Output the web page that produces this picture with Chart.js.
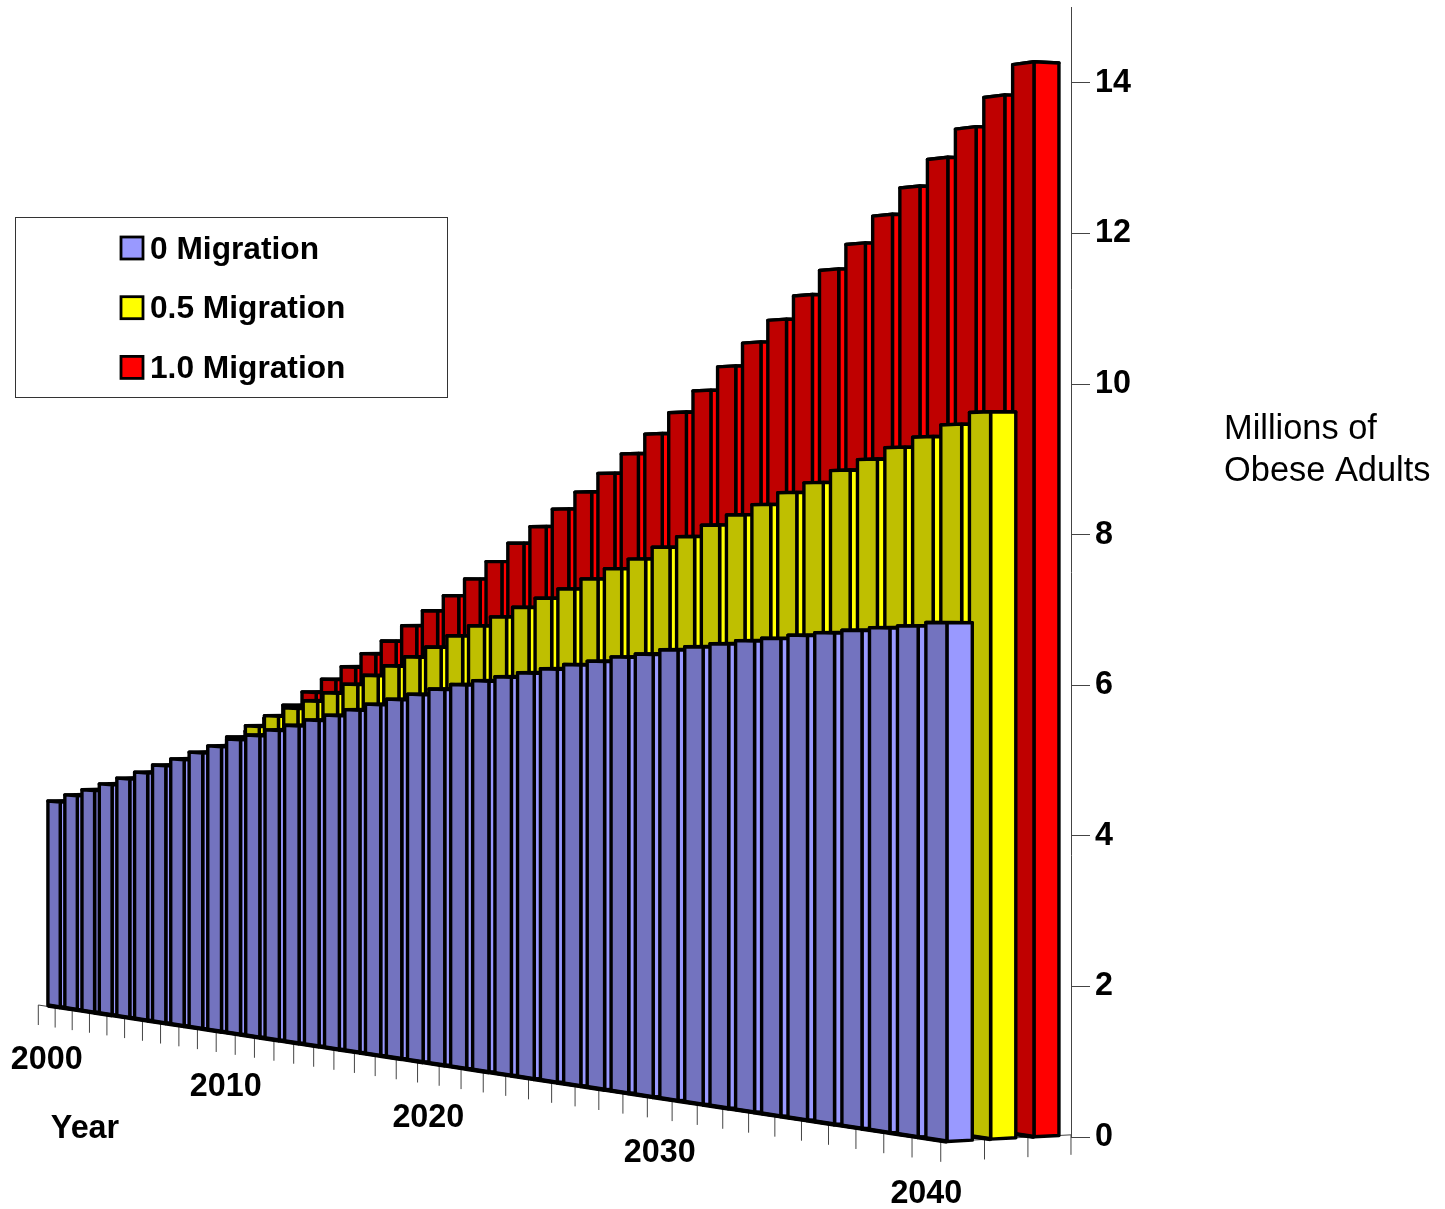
<!DOCTYPE html>
<html>
<head>
<meta charset="utf-8">
<title>Millions of Obese Adults</title>
<script src="https://cdn.jsdelivr.net/npm/chart.js@4/dist/chart.umd.js"></script>
<style>
  body { margin: 0; background: #fff; }
  canvas { display: block; }
</style>
</head>
<body>
<canvas id="myChart" width="1445" height="1209"></canvas>
<script>
const years = [];
for (let y = 2000; y <= 2040; y++) years.push(String(y));

const year_labels = ['2000', '2010', '2020', '2030', '2040'];
const series_names = ['0 Migration', '0.5 Migration', '1.0 Migration'];

const migration_0 = [3.52, 3.65, 3.76, 3.88, 4.00, 4.12, 4.26, 4.38, 4.51, 4.63,
    4.76, 4.84, 4.94, 5.03, 5.13, 5.22, 5.32, 5.42, 5.51, 5.60,
    5.69, 5.77, 5.84, 5.91, 5.98, 6.05, 6.12, 6.18, 6.25, 6.30,
    6.37, 6.42, 6.47, 6.52, 6.56, 6.61, 6.65, 6.69, 6.73, 6.76, 6.81];

const migration_05 = [3.60, 3.72, 3.85, 3.98, 4.12, 4.27, 4.42, 4.57, 4.75, 4.95,
    5.13, 5.27, 5.40, 5.54, 5.69, 5.84, 6.00, 6.15, 6.31, 6.49,
    6.65, 6.79, 6.94, 7.08, 7.22, 7.37, 7.52, 7.66, 7.83, 7.98,
    8.14, 8.28, 8.42, 8.58, 8.71, 8.87, 9.01, 9.16, 9.29, 9.44, 9.59];

const migration_10 = [3.60, 3.73, 3.88, 4.03, 4.20, 4.40, 4.60, 4.82, 5.05, 5.28,
    5.51, 5.73, 5.94, 6.16, 6.37, 6.62, 6.86, 7.10, 7.36, 7.63,
    7.91, 8.16, 8.42, 8.67, 8.94, 9.22, 9.50, 9.80, 10.10, 10.43,
    10.75, 11.05, 11.37, 11.70, 12.03, 12.39, 12.74, 13.09, 13.46, 13.84, 14.23];

const front_colors = ['#7373BF', '#BFBF00', '#BF0000'];
const side_colors = ['#9999FF', '#FFFF00', '#FF0000'];

// perspective of the floor, t runs along the years, d along the rows
const cam = { x0: 38.3, x1: 16.53, x2: 36.4, y0: 1005, y1: -3.315, y2: 1.785, a: -0.005826, b: 0.003137, s: 0.7705 };

function project(t, d, h) {
    const w = 1 + cam.a * t + cam.b * d;
    return {
        x: (cam.x0 + cam.x1 * t + cam.x2 * d) / w,
        y: (cam.y0 + cam.y1 * t + cam.y2 * d - cam.s * h) / w
    };
}

function poly(ctx, pts, fill) {
    ctx.beginPath();
    pts.forEach((p, i) => i ? ctx.lineTo(p.x, p.y) : ctx.moveTo(p.x, p.y));
    ctx.closePath();
    if (fill) {
        ctx.fillStyle = fill;
        ctx.fill();
    }
    ctx.stroke();
}

function slotOf(chart, i) {
    const xs = chart.scales.x;
    return (xs.getPixelForValue(i) - xs.left) / (xs.width / years.length) - 0.5;
}

class Bar3dController extends Chart.BarController {
    draw() {
        const chart = this.chart;
        const ctx = chart.ctx;
        const ys = chart.scales.y;
        const row = this.index;
        const zero = ys.getPixelForValue(0);
        const d0 = row + 0.14, d1 = row + 0.72;

        ctx.save();
        ctx.strokeStyle = '#000';
        ctx.lineJoin = 'round';
        this.getMeta().data.forEach((el, i) => {
            const h = zero - ys.getPixelForValue(this.getParsed(i).y);
            const t0 = slotOf(chart, i) + 0.27, t1 = slotOf(chart, i) + 1;
            ctx.lineWidth = 3.4;
            poly(ctx, [project(t0, d0, h), project(t1, d0, h), project(t1, d1, h), project(t0, d1, h)], front_colors[row]);
            poly(ctx, [project(t1, d0, 0), project(t1, d1, 0), project(t1, d1, h), project(t1, d0, h)], side_colors[row]);
            poly(ctx, [project(t0, d0, 0), project(t1, d0, 0), project(t1, d0, h), project(t0, d0, h)], front_colors[row]);
            // heavier foot along the front of the bar
            const a = project(t0 - 0.3, d0, 0), b = project(t1, d0, 0);
            ctx.lineWidth = 4.4;
            ctx.beginPath();
            ctx.moveTo(i ? a.x : project(t0, d0, 0).x, i ? a.y : project(t0, d0, 0).y);
            ctx.lineTo(b.x, b.y);
            ctx.stroke();
        });
        ctx.restore();
    }
}
Bar3dController.id = 'bar3d';
Bar3dController.defaults = { ...Chart.BarController.defaults };
Chart.register(Bar3dController);

const floorAxis = {
    id: 'floorAxis',
    beforeDatasetsDraw(chart) {
        const ctx = chart.ctx;
        const n = years.length;
        ctx.save();
        ctx.strokeStyle = '#444';
        ctx.lineWidth = 1;
        const a = project(0, 0, 0), b = project(n, 0, 0), c = project(n, 3, 0);
        ctx.beginPath();
        ctx.moveTo(a.x, a.y);
        ctx.lineTo(b.x, b.y);
        ctx.lineTo(c.x, c.y);
        ctx.stroke();
        const tick = (p) => {
            ctx.beginPath();
            ctx.moveTo(p.x, p.y);
            ctx.lineTo(p.x, p.y + 20);
            ctx.stroke();
        };
        for (let i = 0; i < n; i++) tick(project(slotOf(chart, i), 0, 0));
        for (let r = 0; r <= 3; r++) tick(project(n, r, 0));
        ctx.restore();
    },
    afterDatasetsDraw(chart) {
        const ctx = chart.ctx;
        ctx.save();
        ctx.fillStyle = '#000';
        ctx.textBaseline = 'middle';
        ctx.textAlign = 'center';
        ctx.font = 'bold 32.3px "Liberation Sans"';
        year_labels.forEach(label => {
            const p = project(slotOf(chart, years.indexOf(label)) + 0.5, 0, 0);
            ctx.fillText(label, p.x, p.y + 54);
        });
        ctx.fillText('Year', 85, 1129);

        ctx.textAlign = 'left';
        ctx.font = '34.4px "Liberation Sans"';
        ctx.fillText('Millions of', 1224, 429.5);
        ctx.fillText('Obese Adults', 1224, 471.5);

        // legend
        ctx.strokeStyle = '#333';
        ctx.lineWidth = 1;
        ctx.strokeRect(15.5, 217.5, 432, 180);
        ctx.font = 'bold 31.7px "Liberation Sans"';
        chart.data.datasets.forEach((ds, i) => {
            const cy = 248 + i * 59.7;
            ctx.fillStyle = side_colors[i];
            ctx.strokeStyle = '#000';
            ctx.lineWidth = 2.8;
            ctx.fillRect(121, cy - 11, 22, 22);
            ctx.strokeRect(121, cy - 11, 22, 22);
            ctx.fillStyle = '#000';
            ctx.fillText(ds.label, 150, cy + 2);
        });
        ctx.restore();
    }
};

new Chart(document.getElementById('myChart'), {
    type: 'bar',
    data: {
        labels: years,
        datasets: [
            { type: 'bar3d', label: series_names[0], data: migration_0, clip: false },
            { type: 'bar3d', label: series_names[1], data: migration_05, clip: false },
            { type: 'bar3d', label: series_names[2], data: migration_10, clip: false }
        ]
    },
    options: {
        responsive: false,
        animation: false,
        layout: { padding: { left: 0, top: 7.7, right: 314, bottom: 72 } },
        plugins: { legend: { display: false }, tooltip: { enabled: false } },
        scales: {
            x: { display: false, stacked: false },
            y: {
                position: 'right',
                min: 0,
                max: 15,
                afterFit(scale) {
                    scale.width = 60;
                    scale.paddingTop = 0;
                    scale.paddingBottom = 0;
                },
                border: { color: '#444', width: 1 },
                grid: { drawOnChartArea: false, tickLength: 19, tickColor: '#444', tickWidth: 1 },
                ticks: {
                    stepSize: 2,
                    includeBounds: false,
                    padding: 5,
                    color: '#000',
                    font: { family: 'Liberation Sans', size: 32.3, weight: 'bold' }
                }
            }
        }
    },
    plugins: [floorAxis]
});
</script>
</body>
</html>
